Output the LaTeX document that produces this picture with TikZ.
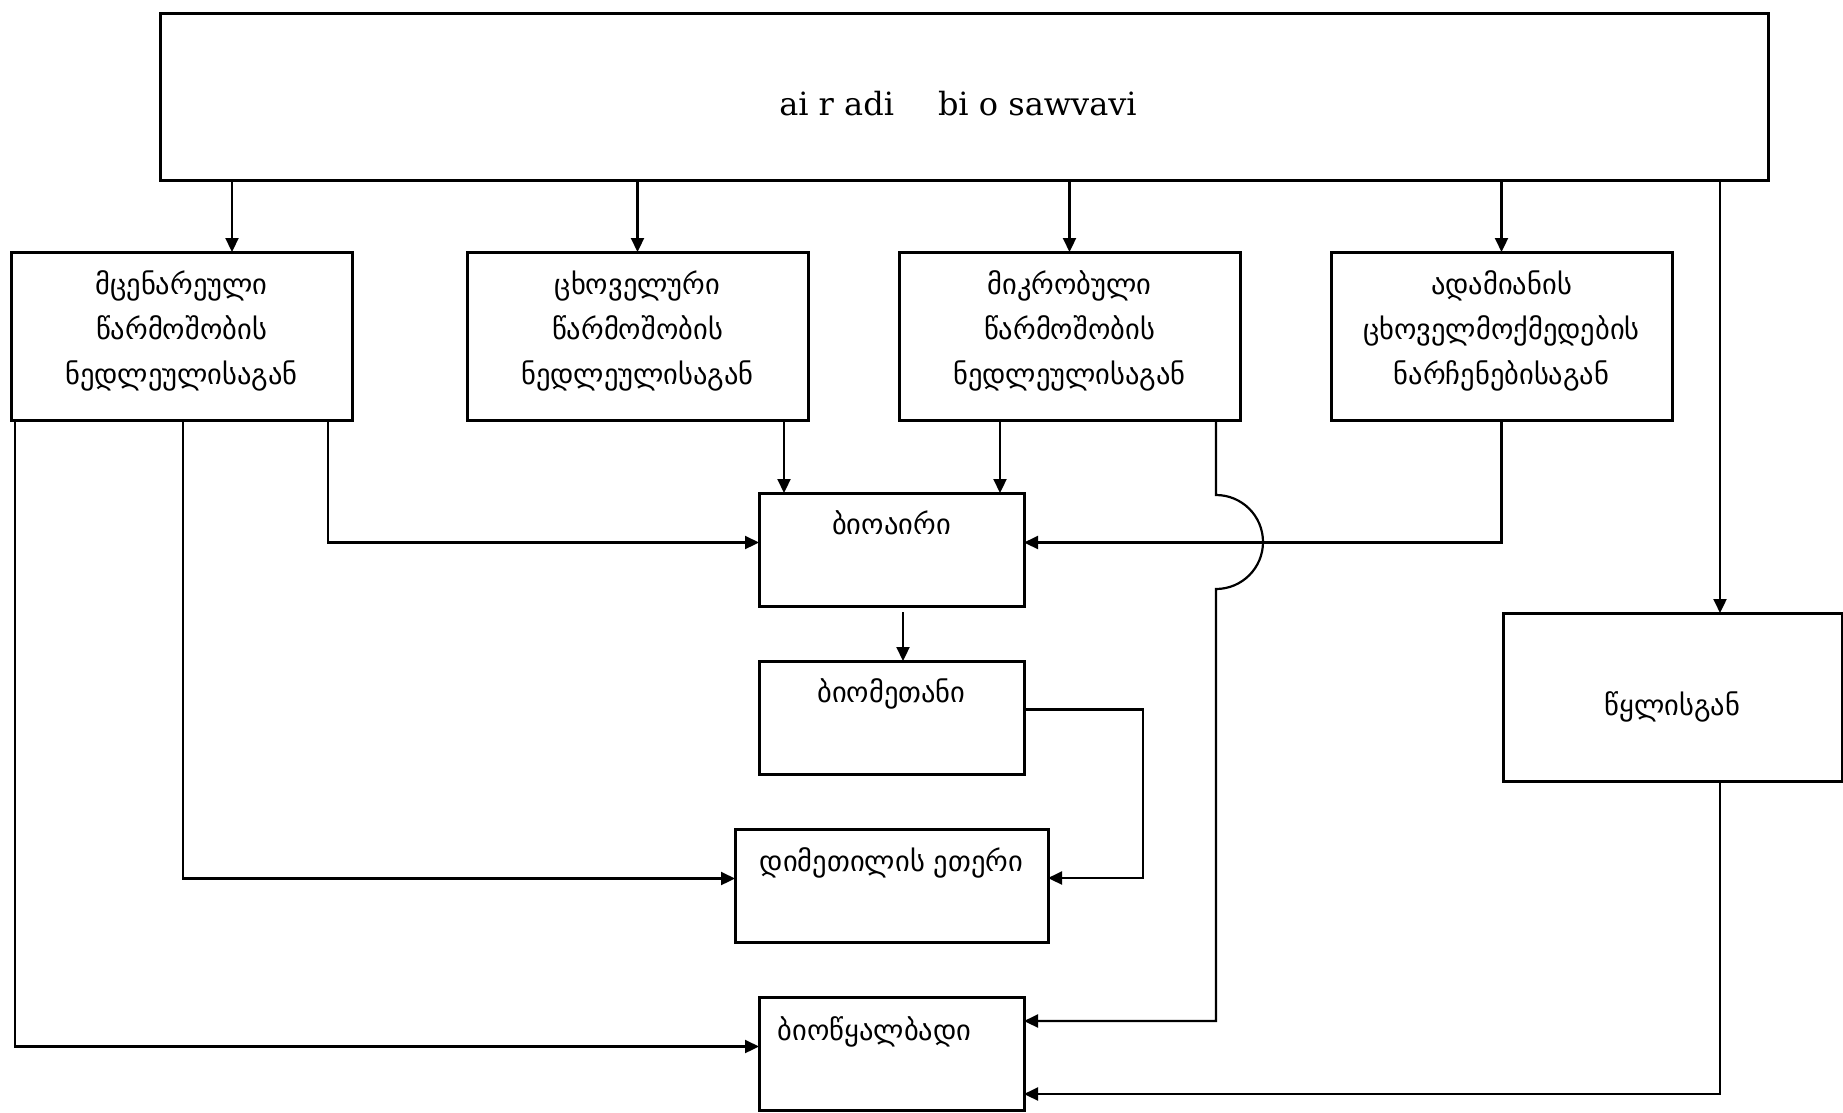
\documentclass[tikz,border=0pt]{standalone}
\usepackage{fontspec}
\setmainfont{DejaVu Serif}
\newfontfamily\geofont{DejaVu Sans}
\usetikzlibrary{arrows.meta,positioning}

\tikzset{
  box/.style={draw, line width=3pt, inner sep=0pt, outer sep=0pt, anchor=north west},
  lbl/.style={font=\geofont\fontsize{28.5}{45}\selectfont, inner sep=0pt, anchor=base},
  arr/.style={line width=2.2pt, -{Triangle[length=14pt,width=13pt]}},
}

\begin{document}
\begin{tikzpicture}[x=1pt,y=-1pt]
\useasboundingbox (0,0) rectangle (1843,1112);
% source
\node[box, minimum width=1608pt, minimum height=167pt] (src) at (160,13) {};
\node[font=\fontsize{32}{36}\selectfont, anchor=base] (srct) at (958,115) {ai r adi\hspace{44pt}bi o sawvavi};
% raw materials
\foreach \nm/\x/\txt in {pl/11/{მცენარეული\\წარმოშობის\\ნედლეულისაგან},
                         an/467/{ცხოველური\\წარმოშობის\\ნედლეულისაგან},
                         mi/899/{მიკრობული\\წარმოშობის\\ნედლეულისაგან},
                         hu/1331/{ადამიანის\\ცხოველმოქმედების\\ნარჩენებისაგან}}{
  \node[box, minimum width=341pt, minimum height=168pt] (\nm) at (\x,252) {};
  \node[lbl, align=center] (\nm t) at ([yshift=-132pt]\nm.north) {\txt};
}
\node[box, minimum width=339pt, minimum height=168pt] (wat) at (1503,613) {};
\node[lbl] (watt) at ([yshift=-18pt]wat.center) {წყლისგან};
% fuels
\node[box, minimum width=265pt, minimum height=113pt] (bair) at (759,493) {};
\node[lbl] (bairt) at ([yshift=-41pt]bair.north) {ბიოაირი};
\node[box, minimum width=265pt, minimum height=113pt] (bmet) at (759,661) {};
\node[lbl] (bmett) at ([yshift=-41pt]bmet.north) {ბიომეთანი};
\node[box, minimum width=313pt, minimum height=113pt] (dme) at (735,829) {};
\node[lbl] (dmet) at ([yshift=-42pt]dme.north) {დიმეთილის ეთერი};
\node[box, minimum width=265pt, minimum height=113pt] (bhy) at (759,997) {};
\node[lbl] (bhyt) at ([xshift=-17pt,yshift=-43pt]bhy.north) {ბიოწყალბადი};
\coordinate (gap) at (903,612);

\draw[arr] (src.south -| 232,0) -- (pl.north -| 232,0);
\foreach \nm in {an,mi,hu}
  \draw[arr] (src.south -| \nm.north) -- (\nm.north);
\draw[arr] (src.south -| 1720,0) -- (wat.north -| 1720,0);

\draw[arr] (pl.south -| 328,0) |- ([yshift=7pt]bair.west);
\draw[arr] (pl.south -| 183,0) |- ([yshift=7pt]dme.west);
\draw[arr] (pl.south -| 15,0) |- ([yshift=7pt]bhy.west);
\draw[arr] (an.south -| 784,0) -- (bair.north -| 784,0);
\draw[arr] (mi.south -| 1000,0) -- (bair.north -| 1000,0);
\draw[arr] (hu.south) |- ([yshift=7pt]bair.east);
\draw[arr] (mi.south -| 1216,0) -- ++(0,75) arc[start angle=-90, end angle=90, radius=47]
  |- ([yshift=32.5pt]bhy.east);
\draw[arr] (gap) -- (bmet.north -| gap);
\draw[arr] ([yshift=8pt]bmet.east) -- ++(119,0) |- ([yshift=7.5pt]dme.east);
\draw[arr] (wat.south -| 1720,0) |- ([yshift=-40.5pt]bhy.east);
\end{tikzpicture}
\end{document}
